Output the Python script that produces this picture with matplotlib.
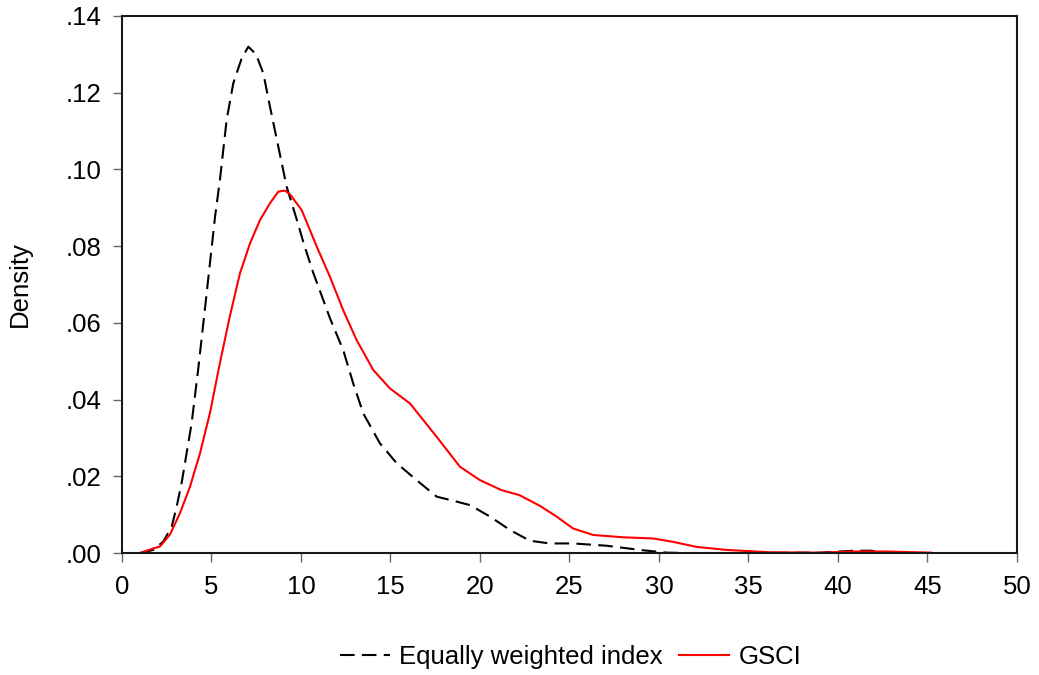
import matplotlib
matplotlib.use("Agg")
import matplotlib.pyplot as plt
from matplotlib.ticker import FuncFormatter

plt.rcParams['font.family'] = ['Liberation Sans', 'DejaVu Sans']

# kernel density curves
ew_x = [1.0, 1.75, 2.31, 2.78, 3.05, 3.33, 3.61, 3.89, 4.26, 4.73, 5.2, 5.47,
        5.85, 6.22, 6.69, 7.06, 7.49, 7.9, 8.27, 8.73, 9.2, 9.76, 10.2, 10.69,
        11.62, 12.36, 12.92, 13.48, 14.41, 15.35, 16.46, 17.58, 18.7, 19.44,
        20.56, 21.68, 22.79, 23.9, 25.2, 27.08, 28.94, 30.43, 31.5, 35.0, 39.0,
        40.86, 41.8, 42.7, 44.0]
ew_y = [0.0, 0.0008, 0.003, 0.0069, 0.012, 0.0182, 0.026, 0.0338, 0.048,
        0.0677, 0.0877, 0.0972, 0.113, 0.1225, 0.129, 0.132, 0.130, 0.125,
        0.1163, 0.106, 0.0955, 0.087, 0.080, 0.073, 0.0612, 0.0529, 0.0442,
        0.0364, 0.0286, 0.0234, 0.019, 0.0147, 0.0134, 0.0125, 0.0095, 0.006,
        0.0032, 0.0025, 0.0025, 0.0019, 0.0008, 0.0001, 0.0, 0.0, 0.0001, 0.0006,
        0.0006, 0.0002, 0.0]

gsci_x = [1.0, 1.75, 2.12, 2.68, 3.24, 3.8, 4.36, 4.92, 5.47, 6.03, 6.59, 7.15,
          7.71, 8.27, 8.73, 9.1, 9.39, 10.04, 10.88, 11.62, 12.36, 13.11, 14.04,
          14.97, 16.09, 17.58, 18.88, 20.0, 21.2, 22.2, 23.35, 24.28, 25.2,
          26.33, 28.0, 29.68, 30.8, 32.1, 33.8, 36.2, 39.0, 40.8, 42.7, 45.2]
gsci_y = [0.0, 0.0012, 0.0017, 0.0048, 0.0104, 0.0173, 0.026, 0.0366, 0.0495,
          0.0618, 0.0729, 0.0807, 0.0868, 0.0912, 0.0942, 0.0945, 0.0935, 0.0894,
          0.0799, 0.072, 0.0633, 0.0555, 0.0477, 0.0429, 0.039, 0.0303, 0.0225,
          0.019, 0.0164, 0.0151, 0.0123, 0.0095, 0.0064, 0.0047, 0.0041, 0.0038,
          0.0029, 0.0016, 0.0008, 0.0002, 0.0001, 0.0004, 0.0004, 0.0001]

xticks = list(range(0, 51, 5))
yticks = [0.0, 0.02, 0.04, 0.06, 0.08, 0.10, 0.12, 0.14]

fig = plt.figure(figsize=(10.39, 6.75), dpi=100)
ax = fig.add_axes([0.1174, 0.1807, 0.8614, 0.7956])

ax.plot(ew_x, ew_y, color='black', lw=1.5, dashes=(7, 3.5),
        label='Equally weighted index')
ax.plot(gsci_x, gsci_y, color='#ff0000', lw=1.5, label='GSCI')

ax.set_xlim(0, 50)
ax.set_ylim(0, 0.14)
ax.set_xticks(xticks)
ax.set_yticks(yticks)
ax.yaxis.set_major_formatter(FuncFormatter(lambda v, p: ('%.2f' % v)[1:]))
ax.tick_params(direction='out', length=6.5, width=1, color='#666666',
               labelsize=18.5)
ax.tick_params(axis='x', pad=9)
ax.tick_params(axis='y', pad=8)
for s in ax.spines.values():
    s.set_linewidth(1.5)
    s.set_color('#1a1a1a')

ax.set_ylabel('Density', fontsize=18.5)
ax.yaxis.set_label_coords(-0.1006, 0.5)

fig.legend(loc='center', bbox_to_anchor=(0.549, 0.0267), ncol=2, frameon=False,
           fontsize=18.5, handlelength=1.95, columnspacing=0.66,
           handletextpad=0.35)

fig.savefig('out.png', dpi=100)
